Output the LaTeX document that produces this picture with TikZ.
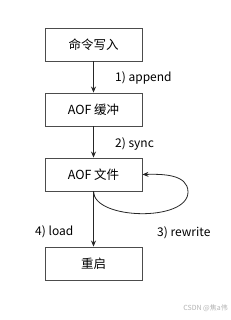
\documentclass[tikz,border=0pt]{standalone}
\usepackage{fontspec}
\setmainfont{Noto Sans CJK SC}
\usetikzlibrary{arrows.meta}
\begin{document}
\begin{tikzpicture}[x=1pt,y=-1pt,
  box/.style={draw=black!70,line width=0.9pt,minimum width=97pt,minimum height=33pt,inner sep=0pt,font=\fontsize{12.5}{14}\selectfont},
  conn/.style={draw=black!85,line width=0.8pt,-{Stealth[length=6pt,width=5pt]}},
  lbl/.style={font=\fontsize{12}{14}\selectfont,inner sep=0pt,anchor=west}]
\useasboundingbox (0,0) rectangle (230,320);
\node[box] (b1) at (93.5,44.5) {命令写入};
\node[box] (b2) at (93.5,109.5) {AOF 缓冲};
\node[box] (b3) at (93.5,174.5) {AOF 文件};
\node[box] (b4) at (93.5,263.5) {重启};
\draw[conn] (b1) -- (b2);
\draw[conn] (b2) -- (b3);
\draw[conn] (b3) -- (b4);
\coordinate (loopR) at (188,192);
\draw[conn] (b3.south) .. controls (94,220) and (188,222) .. (loopR) .. controls (188,174) and (162,174) .. (b3.east);
\node[lbl] (l1) at (115,78) {1) append};
\node[lbl] (l2) at (115,144) {2) sync};
\node[lbl] (l4) at (35,232) {4) load};
\node[lbl] (l3) at (157,233) {3) rewrite};
\node[font=\fontsize{7}{8}\selectfont,text=black!30,anchor=east,inner sep=0pt] (wm) at (228,308) {CSDN @焦a伟};
\end{tikzpicture}
\end{document}
